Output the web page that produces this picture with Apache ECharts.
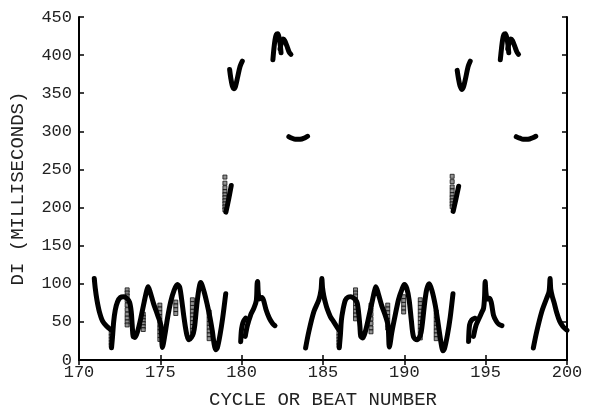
<!DOCTYPE html>
<html><head><meta charset="utf-8">
<script src="https://cdn.jsdelivr.net/npm/echarts@6/dist/echarts.min.js"></script>
<style>html,body{margin:0;padding:0;background:#fff}#c{width:591px;height:414px}</style>
</head><body><div id="c"></div>
<script>
// ---- tick labels ----
const xTicks = [170, 175, 180, 185, 190, 195, 200];
const yTicks = [0, 50, 100, 150, 200, 250, 300, 350, 400, 450];

// ---- thick trajectories (beat number, DI ms) ----
const low171 = [[170.94,107],[171.0,94],[171.1,79],[171.25,63.5],[171.45,51],[171.72,44],[171.96,39.5]];
const low172to179 = [[172.0,16],[172.07,33],[172.13,50],[172.23,65.7],[172.37,76.5],[172.54,82],[172.74,83],[172.94,81],[173.11,75.7],[173.21,63.5],[173.27,46],[173.33,31],[173.44,29.6],[173.6,37.4],[173.8,54.8],[174.01,76.5],[174.17,91.7],[174.25,96],[174.37,89.6],[174.58,74.3],[174.83,59],[175.03,46],[175.13,16.5],[175.28,33],[175.44,54.8],[175.64,76.5],[175.85,91.7],[176.05,99],[176.18,96],[176.3,81],[176.46,54.8],[176.63,33],[176.77,26.5],[176.91,29.6],[177.03,35],[177.12,46],[177.24,72],[177.36,91.7],[177.48,101.7],[177.69,89.6],[177.89,72],[178.06,54.8],[178.2,37.4],[178.3,22],[178.4,13.5],[178.5,15.6],[178.67,33],[178.83,54.8],[179.02,87]];
const low180a = [[179.94,24],[179.98,38],[180.04,46],[180.12,51],[180.25,55]];
const low180b = [[180.22,31],[180.35,45],[180.55,59],[180.75,68],[180.9,78],[180.95,100],[180.98,103],[181.02,88],[181.1,80],[181.25,82],[181.35,78],[181.5,66],[181.7,55],[181.9,48],[182.05,45]];
const low184 = [[183.93,15.7],[184.13,37.4],[184.44,63.5],[184.74,78.7],[184.88,92],[184.93,107],[184.97,95],[185.05,84],[185.15,75],[185.26,67],[185.45,57],[185.66,50],[185.97,39.6]];
const low186to193 = [[186.0,16],[186.07,33],[186.13,52],[186.23,66],[186.38,78.7],[186.55,82.5],[186.72,83],[186.95,80],[187.1,75],[187.2,60],[187.27,44],[187.32,31],[187.45,29],[187.6,37],[187.8,55],[188.02,76.5],[188.17,91],[188.25,96],[188.4,87],[188.6,72],[188.85,57],[189.0,45],[189.08,17],[189.24,37.4],[189.45,60],[189.65,80],[189.86,93],[190.0,99],[190.15,94],[190.3,78],[190.43,52],[190.57,30],[190.78,26.5],[190.93,30],[191.03,36],[191.12,50],[191.25,75],[191.38,93],[191.53,100],[191.7,91],[191.9,72],[192.05,52],[192.2,30],[192.3,17],[192.37,12],[192.47,15],[192.65,33],[192.82,56],[192.99,87]];
const low194a = [[193.95,24.3],[194.01,46],[194.15,52.6],[194.35,54.8]];
const low194b = [[194.25,31],[194.4,45],[194.56,53],[194.75,62],[194.87,68],[194.93,82],[194.97,103],[195.02,88],[195.1,80],[195.24,81],[195.35,75],[195.48,59],[195.65,51],[195.8,47],[196.0,45]];
const low198 = [[197.93,15.7],[198.14,37.4],[198.45,63.5],[198.75,81],[198.9,90],[198.96,107],[199.0,93],[199.1,83],[199.2,76],[199.37,62],[199.55,51],[199.75,44],[199.95,40],[200.0,39]];

const mid179 = [[179.03,194],[179.2,211],[179.36,229]];
const mid193 = [[193.0,195],[193.17,211],[193.34,228]];
const v179 = [[179.26,381],[179.33,370],[179.42,360],[179.52,356],[179.62,359],[179.75,371],[179.9,385],[180.04,392]];
const v193 = [[193.25,380],[193.33,369],[193.42,360],[193.55,355],[193.65,359],[193.78,371],[193.92,385],[194.05,392]];
const arch182a = [[181.92,394],[181.98,408],[182.05,420],[182.13,427],[182.22,428],[182.3,423],[182.38,412],[182.42,403]];
const arch182b = [[182.36,408],[182.45,417],[182.55,421],[182.65,419],[182.78,412],[182.92,404],[183.03,401]];
const arch196a = [[195.9,394],[195.97,408],[196.04,420],[196.12,427],[196.21,428],[196.3,423],[196.38,412],[196.42,403]];
const arch196b = [[196.36,408],[196.45,417],[196.55,421],[196.65,419],[196.78,412],[196.92,404],[197.02,401]];
const flat183 = [[182.9,293],[183.1,291],[183.3,289.5],[183.5,289.5],[183.7,290],[183.9,291.5],[184.05,293.5]];
const flat197 = [[196.88,293],[197.1,291],[197.3,289.5],[197.5,289.5],[197.7,290],[197.9,291.5],[198.08,293.5]];

// ---- sparse transition points: [beat, [DI values]] ----
const dotColumns = [
  [171.98, [35,31,27,23,19]],
  [172.96, [92,88,84,78,72,66,60,55,50,46]],
  [173.95, [60,56,52,48,44,40]],
  [174.97, [72,67,62,57,52,47,42,37,32,27]],
  [175.95, [76,71,66,61]],
  [176.97, [79,74,69,64,59,54,49,44,39,34]],
  [178.0, [63,58,53,48,43,38,33,28]],
  [178.97, [240,232,226,221,217,213,209,205,201,197]],
  [185.98, [35,31,27,23,19]],
  [187.0, [92,88,84,79,74,69,64,59,54]],
  [187.95, [72,66,60,54,48,42,37]],
  [188.98, [72,67,62,57,52,47,42]],
  [189.96, [83,78,73,68,63]],
  [190.98, [79,74,69,64,59,54,49,44,39,34,29]],
  [191.96, [63,58,53,48,43,38,33,28]],
  [192.94, [241,234,227,222,217,213,209,205,201]]
];

const curves = [low171, low172to179, low180a, low180b, low184, low186to193, low194a, low194b, low198,
  mid179, mid193, v179, v193, arch182a, arch182b, arch196a, arch196b, flat183, flat197];

const dots = [];
dotColumns.forEach(([x, ys]) => ys.forEach(y => dots.push([x, y])));

const tickFont = {fontFamily: 'Liberation Mono', fontSize: 17, color: '#222'};
const nameFont = {fontFamily: 'Liberation Mono', fontSize: 19, color: '#222'};
const axisLine = {show: true, lineStyle: {color: '#000', width: 2}};
const tick = {show: true, inside: true, length: 5, lineStyle: {color: '#000', width: 1.5}};

const series = curves.map(d => ({
  type: 'line', data: d, xAxisIndex: 0, yAxisIndex: 0,
  showSymbol: false, symbol: 'none', smooth: 0.3,
  lineStyle: {color: '#000', width: 5, cap: 'round', join: 'round'},
  silent: true
}));
series.push({
  type: 'scatter', data: dots, xAxisIndex: 0, yAxisIndex: 0,
  symbol: 'rect', symbolSize: 4,
  itemStyle: {color: '#777', borderColor: '#111', borderWidth: 1},
  silent: true
});

const chart = echarts.init(document.getElementById('c'), null, {renderer: 'canvas'});
chart.setOption({
  animation: false,
  backgroundColor: '#fff',
  grid: {left: 78, right: 24, top: 17, bottom: 52, containLabel: false},
  xAxis: [
    {type: 'value', position: 'bottom', min: xTicks[0], max: xTicks[xTicks.length-1], interval: 5,
     name: 'CYCLE OR BEAT NUMBER', nameLocation: 'middle', nameGap: 30, nameTextStyle: nameFont,
     axisLine: axisLine, axisTick: tick, splitLine: {show: false},
     axisLabel: Object.assign({margin: 4}, tickFont)},
    {type: 'value', position: 'top', min: xTicks[0], max: xTicks[xTicks.length-1], interval: 5,
     axisLine: axisLine, axisTick: tick, splitLine: {show: false}, axisLabel: {show: false}}
  ],
  yAxis: [
    {type: 'value', position: 'left', min: yTicks[0], max: yTicks[yTicks.length-1], interval: 50,
     name: 'DI (MILLISECONDS)', nameLocation: 'middle', nameGap: 52, nameTextStyle: nameFont,
     axisLine: axisLine, axisTick: tick, splitLine: {show: false},
     axisLabel: Object.assign({margin: 7}, tickFont)},
    {type: 'value', position: 'right', min: yTicks[0], max: yTicks[yTicks.length-1], interval: 50,
     axisLine: axisLine, axisTick: tick, splitLine: {show: false}, axisLabel: {show: false}}
  ],
  series: series
});
</script></body></html>
